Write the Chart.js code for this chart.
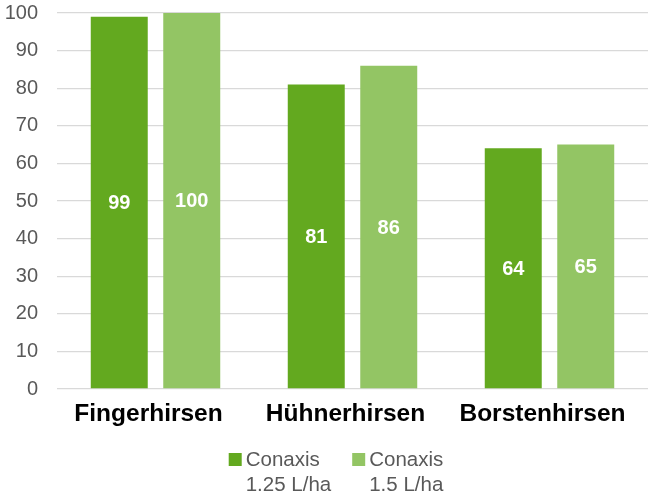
<!DOCTYPE html>
<html>
<head>
<meta charset="utf-8">
<script src="https://cdn.jsdelivr.net/npm/chart.js@4"></script>
<style>
  html, body { margin: 0; padding: 0; background: #fff; }
  #wrap { width: 648px; height: 494px; }
</style>
</head>
<body>
<div id="wrap"><canvas id="chart" width="648" height="494"></canvas></div>
<script>
// Data
const categories = ['Fingerhirsen', 'Hühnerhirsen', 'Borstenhirsen'];
const series1Label = ['Conaxis', '1.25 L/ha'];
const series2Label = ['Conaxis', '1.5 L/ha'];
const series1Values = [99, 81, 64];
const series2Values = [100, 86, 65];
const yTicks = [0, 10, 20, 30, 40, 50, 60, 70, 80, 90, 100];

const FONT = "'Liberation Sans', Arial, sans-serif";
Chart.defaults.font.family = FONT;
Chart.defaults.color = '#595959';

// Value labels in the middle of each bar
const barLabels = {
    id: 'barLabels',
    afterDatasetsDraw(chart) {
        const ctx = chart.ctx;
        ctx.save();
        ctx.fillStyle = '#ffffff';
        ctx.font = 'bold 20px ' + FONT;
        ctx.textAlign = 'center';
        ctx.textBaseline = 'middle';
        chart.data.datasets.forEach((ds, i) => {
            chart.getDatasetMeta(i).data.forEach((bar, j) => {
                ctx.fillText(ds.data[j], bar.x, (bar.y + bar.base) / 2 + 1);
            });
        });
        ctx.restore();
    }
};

// Legend with two-line labels, drawn below the axis
const twoLineLegend = {
    id: 'twoLineLegend',
    afterDraw(chart) {
        const ctx = chart.ctx;
        const box = 13, gap = 4, itemGap = 21, lineH = 25;
        ctx.save();
        ctx.font = '20.5px ' + FONT;
        ctx.textBaseline = 'alphabetic';
        ctx.textAlign = 'left';
        const items = chart.data.datasets.map(ds => {
            const w = Math.max(...ds.label.map(t => ctx.measureText(t).width));
            return { ds, w: box + gap + w };
        });
        const total = items.reduce((s, it) => s + it.w, 0) + itemGap * (items.length - 1);
        let x = chart.width / 2 + 12 - total / 2;
        const base = 466;
        items.forEach(it => {
            ctx.fillStyle = it.ds.backgroundColor;
            ctx.fillRect(x, base - box, box, box);
            ctx.fillStyle = '#595959';
            it.ds.label.forEach((t, k) => ctx.fillText(t, x + box + gap, base + k * lineH));
            x += it.w + itemGap;
        });
        ctx.restore();
    }
};

const ctx = document.getElementById('chart').getContext('2d');
new Chart(ctx, {
    type: 'bar',
    data: {
        labels: categories,
        datasets: [
            {
                label: series1Label,
                data: series1Values,
                backgroundColor: '#63a91f',
                categoryPercentage: 0.736,
                barPercentage: 0.786
            },
            {
                label: series2Label,
                data: series2Values,
                backgroundColor: '#93c564',
                categoryPercentage: 0.736,
                barPercentage: 0.786
            }
        ]
    },
    options: {
        responsive: false,
        animation: false,
        layout: { padding: { left: 0, top: 0, right: 0, bottom: 60 } },
        plugins: {
            tooltip: { enabled: false },
            legend: { display: false }
        },
        scales: {
            x: {
                grid: { display: false },
                border: { display: false },
                afterFit: axis => { axis.height = 45; },
                ticks: {
                    color: '#000000',
                    font: { size: 24.5, weight: 'bold' },
                    padding: 3,
                    labelOffset: -7,
                    maxRotation: 0,
                    autoSkip: false
                }
            },
            y: {
                min: 0,
                max: 100,
                afterBuildTicks: axis => { axis.ticks = yTicks.map(v => ({ value: v })); },
                afterFit: axis => {
                    axis.width = 57;
                    axis.paddingTop = 13;
                    axis.paddingBottom = 12;
                },
                grid: { color: '#d9d9d9', lineWidth: 1.3, drawTicks: false },
                border: { display: false },
                ticks: {
                    color: '#595959',
                    font: { size: 20 },
                    padding: 19
                }
            }
        }
    },
    plugins: [barLabels, twoLineLegend]
});
</script>
</body>
</html>
